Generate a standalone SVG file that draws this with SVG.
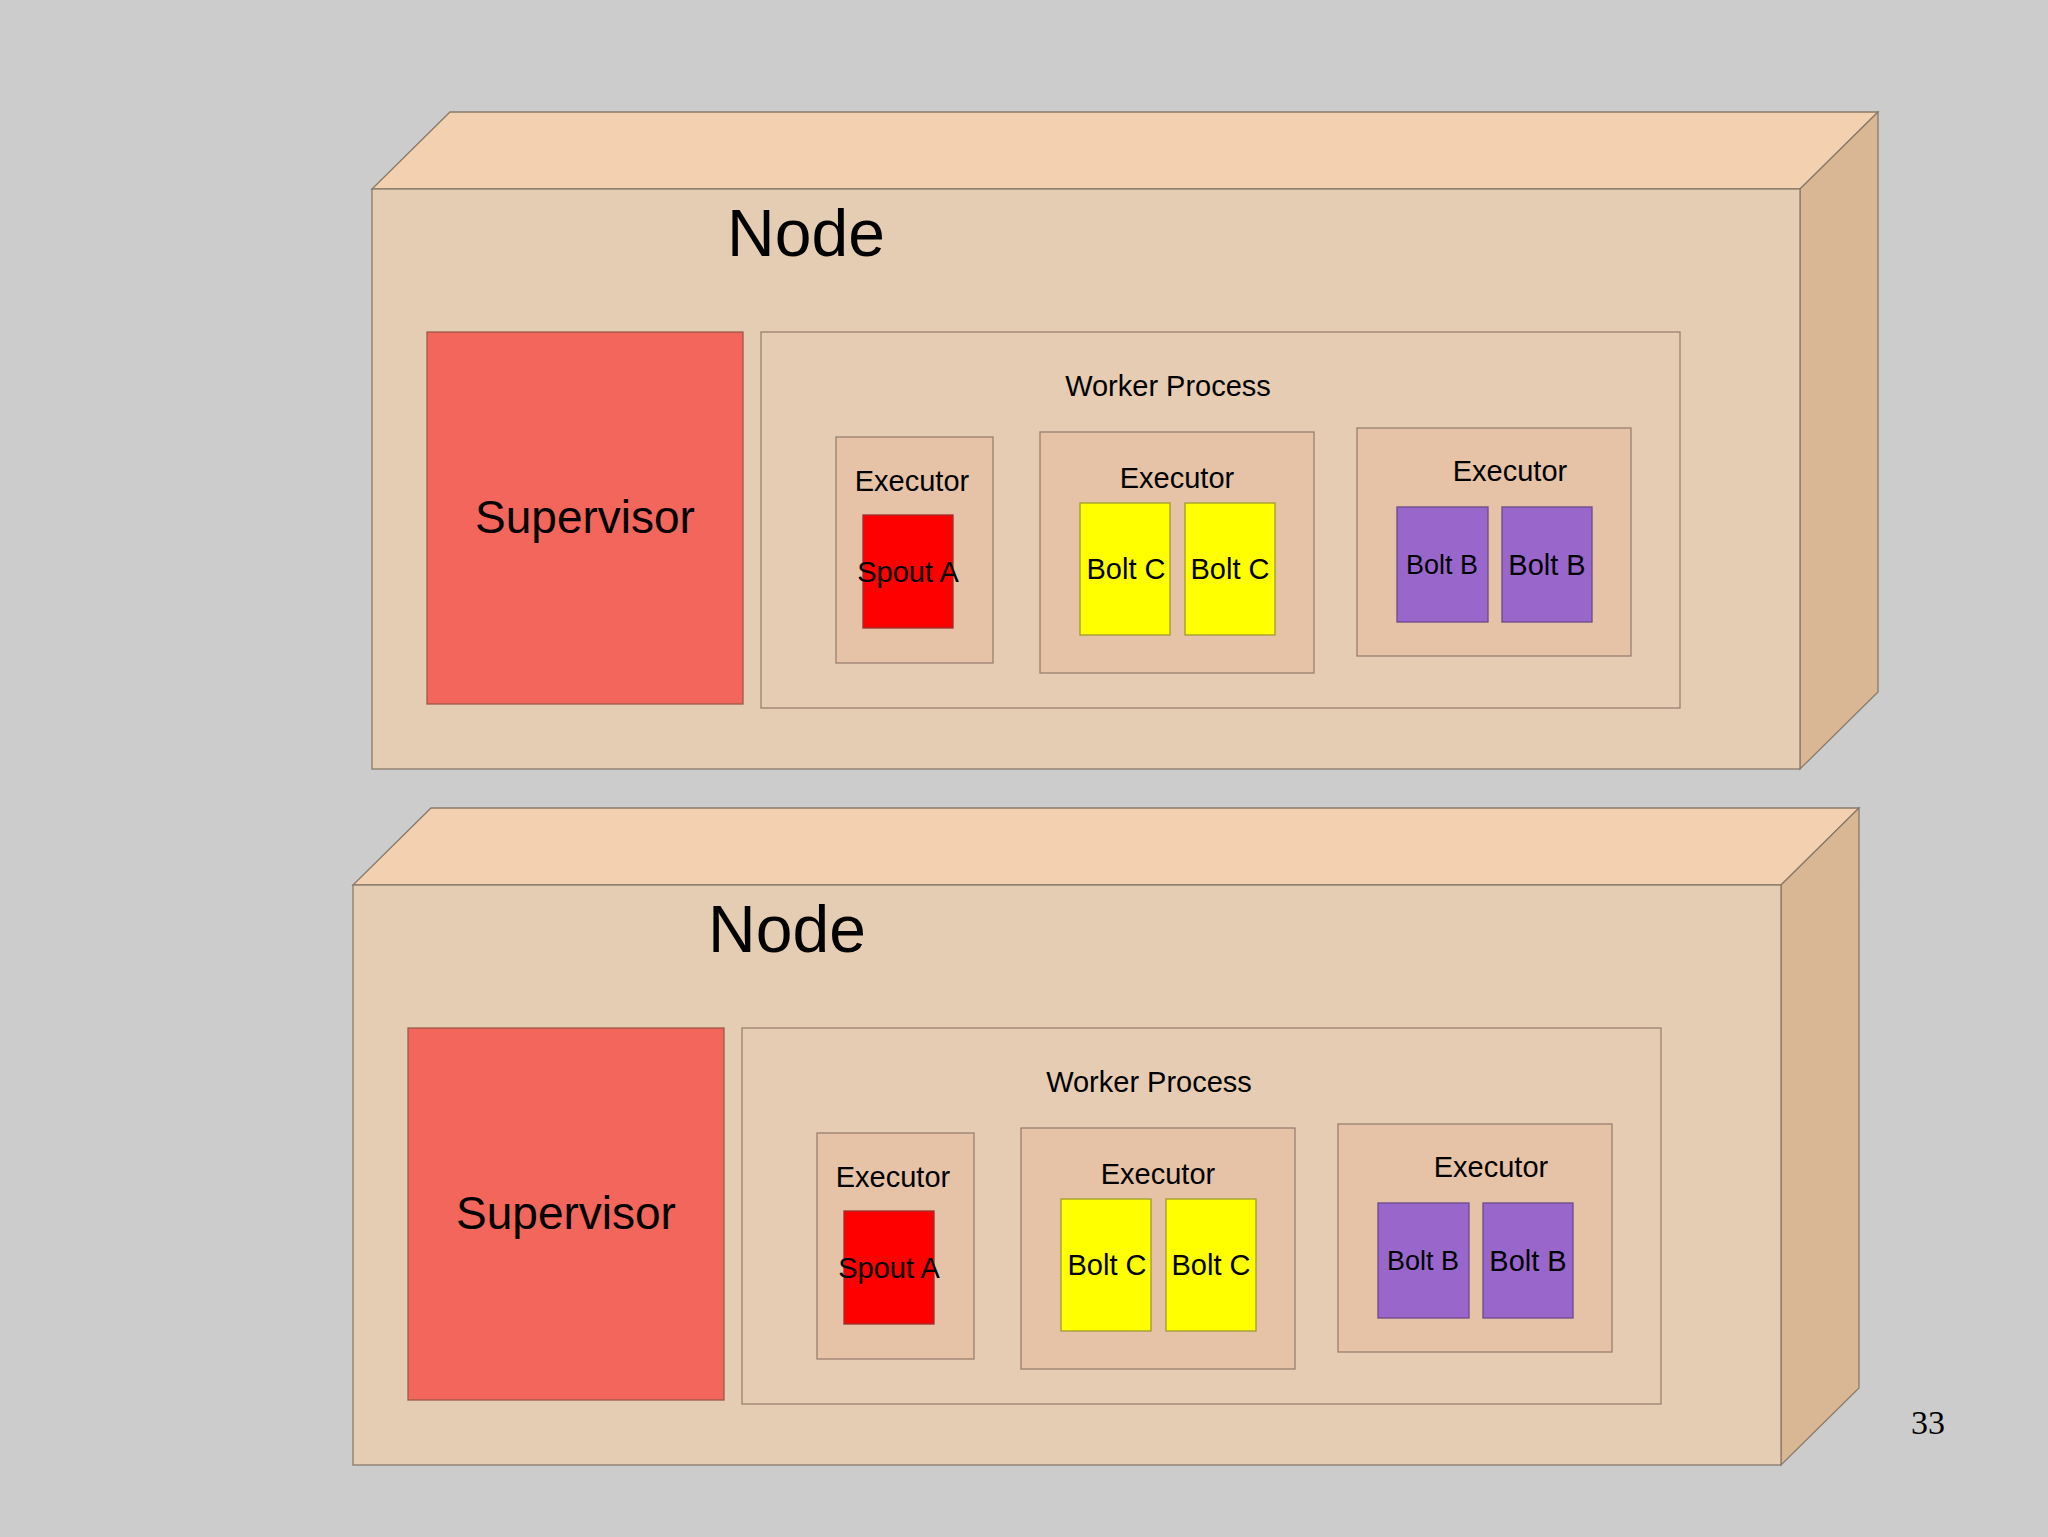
<svg xmlns="http://www.w3.org/2000/svg" width="2048" height="1537" viewBox="0 0 2048 1537">
<style>
.f{fill:#e4cdb2;stroke:#8a7a6a;stroke-width:1.3}
.t{fill:#f3d0b0;stroke:#8a7a6a;stroke-width:1.3}
.r{fill:#d9b795;stroke:#8a7a6a;stroke-width:1.3}
.sup{fill:#f2665b;stroke:#9a5a4a;stroke-width:1.3}
.wp{fill:#e6ccb2;stroke:#9a8070;stroke-width:1.3}
.ex{fill:#e6c3a6;stroke:#9a8070;stroke-width:1.3}
.sp{fill:#ff0000;stroke:#9a3030;stroke-width:1.3}
.bc{fill:#ffff00;stroke:#a09a30;stroke-width:1.3}
.bb{fill:#9966cc;stroke:#6a4a8a;stroke-width:1.3}
text{font-family:"Liberation Sans",Arial,sans-serif;fill:#000;text-anchor:middle}
.s{font-size:29px}
</style>
<rect width="2048" height="1537" fill="#cccccc"/>
<defs>
<g id="nodeShape">
<polygon class="t" points="372,189 450,112 1878,112 1800,189"/>
<polygon class="r" points="1800,189 1878,112 1878,692 1800,769"/>
<rect class="f" x="372" y="189" width="1428" height="580"/>
<text x="806" y="256" style="font-size:66px">Node</text>
<rect class="sup" x="427" y="332" width="316" height="372"/>
<text x="585" y="533" style="font-size:46px">Supervisor</text>
<rect class="wp" x="761" y="332" width="919" height="376"/>
<text class="s" x="1168" y="396">Worker Process</text>
<rect class="ex" x="836" y="437" width="157" height="226"/>
<text class="s" x="912" y="491">Executor</text>
<rect class="sp" x="863" y="515" width="90" height="113"/>
<text class="s" x="908" y="582">Spout A</text>
<rect class="ex" x="1040" y="432" width="274" height="241"/>
<text class="s" x="1177" y="488">Executor</text>
<rect class="bc" x="1080" y="503" width="90" height="132"/>
<rect class="bc" x="1185" y="503" width="90" height="132"/>
<text class="s" x="1126" y="579">Bolt C</text>
<text class="s" x="1230" y="579">Bolt C</text>
<rect class="ex" x="1357" y="428" width="274" height="228"/>
<text class="s" x="1510" y="481">Executor</text>
<rect class="bb" x="1397" y="507" width="91" height="115"/>
<rect class="bb" x="1502" y="507" width="90" height="115"/>
<text x="1442" y="574" style="font-size:27px">Bolt B</text>
<text class="s" x="1547" y="575">Bolt B</text>
</g>
</defs>
<g id="node1"><use href="#nodeShape"/></g>
<g id="node2"><use href="#nodeShape" transform="translate(-19,696)"/></g>
<g id="connectors"/>
<text x="1928" y="1434" style="font-family:'Liberation Serif',serif;font-size:34px">33</text>
</svg>
